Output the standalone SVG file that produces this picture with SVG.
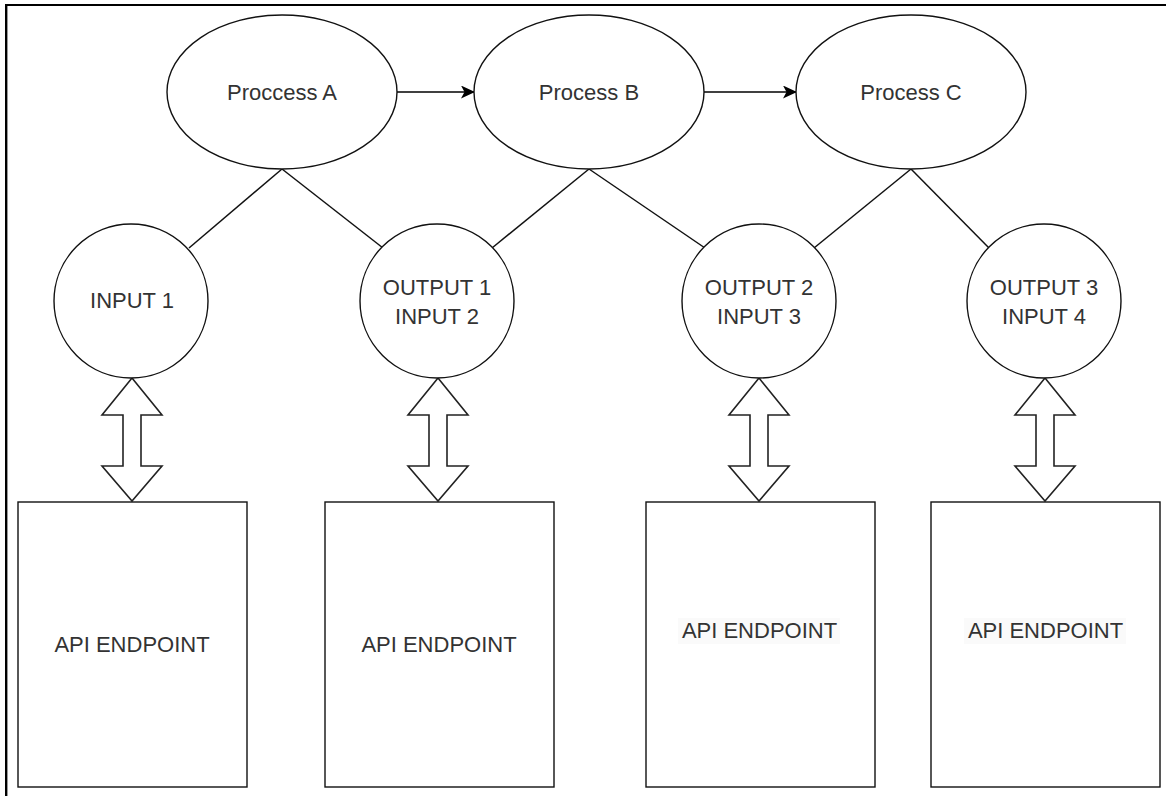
<svg xmlns="http://www.w3.org/2000/svg" width="1166" height="796" viewBox="0 0 1166 796">
  <style>
    .shape { fill: #ffffff; stroke: #111111; stroke-width: 1.4; }
    .link { fill: none; stroke: #111111; stroke-width: 1.5; }
    .flow { fill: none; stroke: #000000; stroke-width: 1.6; }
    .label { font-family: "Liberation Sans", Arial, Helvetica, sans-serif; font-size: 22px; fill: #333333; text-anchor: middle; }
    .dbl { fill: #ffffff; stroke: #222222; stroke-width: 1.6; stroke-linejoin: miter; }
    .frame { fill: none; stroke: #000000; }
  </style>
  <defs>
    <marker id="arrowhead" viewBox="0 0 14 13" refX="13" refY="6.5" markerWidth="14" markerHeight="13" markerUnits="userSpaceOnUse" orient="auto">
      <path d="M0,0 L14,6.5 L0,13 L3.5,6.5 Z" fill="#000000"/>
    </marker>
    <!-- vertical double-headed block arrow, centred on x=0 -->
    <path id="dblArrow" class="dbl" d="M0,378 L30,415 L9,415 L9,466 L30,466 L0,501 L-30,466 L-9,466 L-9,415 L-30,415 Z"/>
  </defs>

  <rect width="1166" height="796" fill="#ffffff"/>

  <!-- outer frame (top and left edges) -->
  <line class="frame" x1="5" y1="5" x2="1166" y2="5" stroke-width="2"/>
  <line class="frame" x1="6.2" y1="4" x2="6.2" y2="796" stroke-width="2.4"/>

  <!-- connectors -->
  <g id="connectors">
    <line class="flow" x1="397" y1="92" x2="474" y2="92" marker-end="url(#arrowhead)"/>
    <line class="flow" x1="704" y1="92" x2="796" y2="92" marker-end="url(#arrowhead)"/>

    <line class="link" x1="282" y1="169" x2="189" y2="248"/>
    <line class="link" x1="282" y1="169" x2="383" y2="248"/>
    <line class="link" x1="589" y1="169" x2="492" y2="248"/>
    <line class="link" x1="589" y1="169" x2="705" y2="248"/>
    <line class="link" x1="911" y1="169" x2="814" y2="248"/>
    <line class="link" x1="911" y1="169" x2="989" y2="248"/>

    <use href="#dblArrow" x="132" y="0"/>
    <use href="#dblArrow" x="438" y="0"/>
    <use href="#dblArrow" x="759" y="0"/>
    <use href="#dblArrow" x="1045" y="0"/>
  </g>

  <!-- processes -->
  <g id="process-a">
    <ellipse class="shape" cx="282" cy="92" rx="115" ry="77"/>
    <text class="label" x="282" y="100">Proccess A</text>
  </g>
  <g id="process-b">
    <ellipse class="shape" cx="589" cy="92" rx="115" ry="77"/>
    <text class="label" x="589" y="100">Process B</text>
  </g>
  <g id="process-c">
    <ellipse class="shape" cx="911" cy="92" rx="115" ry="77"/>
    <text class="label" x="911" y="100">Process C</text>
  </g>

  <!-- data circles -->
  <g id="input-1">
    <circle class="shape" cx="131" cy="301" r="77"/>
    <text class="label" x="132" y="308">INPUT 1</text>
  </g>
  <g id="output-1-input-2">
    <circle class="shape" cx="437" cy="301" r="77"/>
    <text class="label" x="437" y="295">OUTPUT 1</text>
    <text class="label" x="437" y="324">INPUT 2</text>
  </g>
  <g id="output-2-input-3">
    <circle class="shape" cx="759" cy="301" r="77"/>
    <text class="label" x="759" y="295">OUTPUT 2</text>
    <text class="label" x="759" y="324">INPUT 3</text>
  </g>
  <g id="output-3-input-4">
    <circle class="shape" cx="1044" cy="301" r="77"/>
    <text class="label" x="1044" y="295">OUTPUT 3</text>
    <text class="label" x="1044" y="324">INPUT 4</text>
  </g>

  <!-- API endpoints -->
  <g id="endpoint-1">
    <rect class="shape" x="18" y="502" width="229" height="285"/>
    <text class="label" x="132" y="652">API ENDPOINT</text>
  </g>
  <g id="endpoint-2">
    <rect class="shape" x="325" y="502" width="229" height="285"/>
    <text class="label" x="439" y="652">API ENDPOINT</text>
  </g>
  <g id="endpoint-3">
    <rect class="shape" x="646" y="502" width="229" height="285"/>
    <rect x="678" y="618" width="162" height="26" fill="#fafafa"/>
    <text class="label" x="759.5" y="638">API ENDPOINT</text>
  </g>
  <g id="endpoint-4">
    <rect class="shape" x="931" y="502" width="229" height="285"/>
    <rect x="964" y="618" width="162" height="26" fill="#fafafa"/>
    <text class="label" x="1045.5" y="638">API ENDPOINT</text>
  </g>
</svg>
